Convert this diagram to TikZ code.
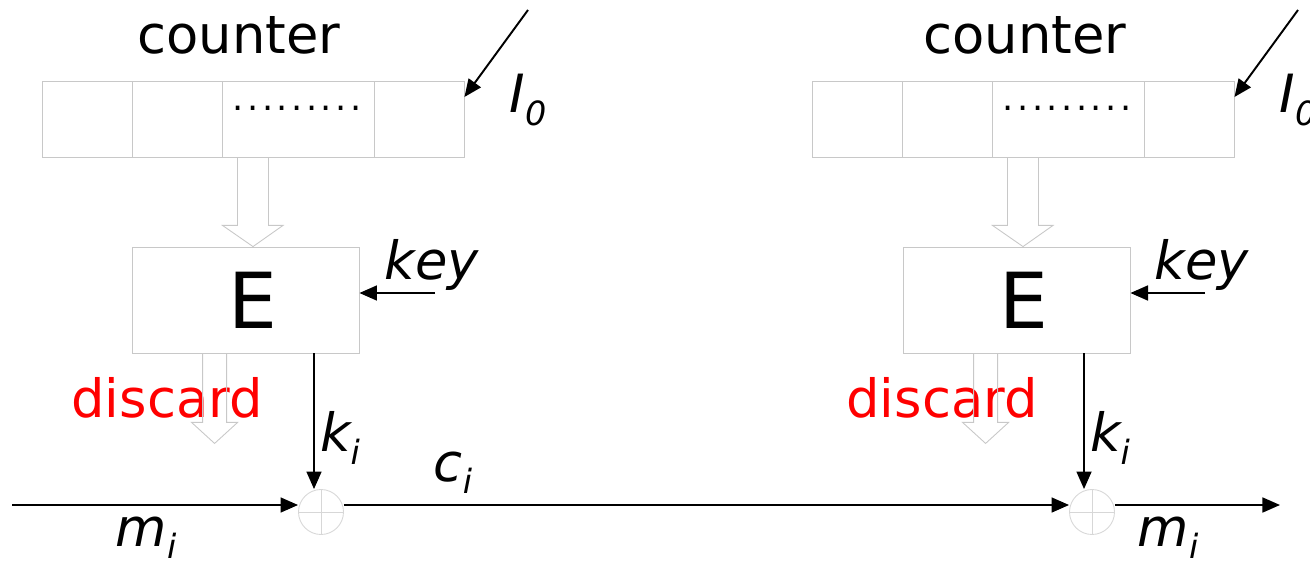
\documentclass[tikz,border=0pt]{standalone}
\usepackage{fontspec}
\setmainfont{DejaVu Sans}
\usepackage{xcolor}
\usetikzlibrary{arrows.meta, positioning, calc}
\definecolor{boxgrey}{RGB}{200,200,200}
\definecolor{xorgrey}{RGB}{215,215,215}
\definecolor{discred}{RGB}{255,0,0}
\newcommand{\lowidx}[2]{#1\raisebox{-7pt}{\fontsize{19}{19}\selectfont #2}}
\newcommand{\dotrow}{.\hspace{2pt}.\hspace{2pt}.\hspace{2pt}.\hspace{2pt}.\hspace{2pt}.\hspace{2pt}.\hspace{2pt}.\hspace{2pt}.}
\tikzset{
  cellbox/.style={rectangle, draw=boxgrey, minimum width=1.8cm, minimum height=1.52cm, inner sep=0pt, line width=0.5pt},
  encbox/.style={rectangle, draw=boxgrey, minimum width=4.54cm, minimum height=2.12cm, inner sep=0pt, line width=0.5pt, font=\fontsize{44}{44}\selectfont},
  xorc/.style={circle, draw=xorgrey, minimum size=0.9cm, inner sep=0pt, line width=0.5pt},
  arrow/.style={-{Triangle[length=10pt, width=8.5pt]}, line width=1.1pt},
  hollow/.style={draw=boxgrey, line width=0.5pt},
  lbl/.style={font=\fontsize{30}{30}\selectfont},
  var/.style={font=\fontsize{30}{30}\selectfont\itshape, inner sep=0pt},
}
\begin{document}
\begin{tikzpicture}[x=0.02cm, y=-0.02cm]
\clip (0,0) rectangle (1310,564);
% sender side
\node (cellA1) [cellbox] at (87,119) {};
\node (cellB1) [cellbox] at (177,119) {};
\node (cellC1) [cellbox, minimum width=3.04cm] at (298,119) {};
\node (cellD1) [cellbox] at (419,119) {};
\node (dots1) at (297,108) {\fontsize{20}{20}\selectfont\dotrow};
\node (ctr1) [lbl] at (239,35) {counter};
\node (enc1) [encbox] at (245.5,300) {\hspace{8pt}E};
\node (key1) [var] at (432,265) {key};
\node (iv1) [var] at (528,100) {\lowidx{I}{0}};
\node (disc1) [lbl, text=discred] at (167,398) {discard};
\node (xor1) [xorc] at (321,512) {};
\coordinate (ivA1) at (528,10);
\coordinate (keyA1) at (435,293);
\coordinate (reg1) at ($(cellA1.south west)!0.5!(cellD1.south east)$);
\coordinate (dsc1) at ($(enc1.south west)+(83,0)$);
\coordinate (kA1) at (314,353);
\coordinate (msgIn) at (12,505);
% receiver side
\node (cellA2) [cellbox] at (857,119) {};
\node (cellB2) [cellbox] at (947,119) {};
\node (cellC2) [cellbox, minimum width=3.04cm] at (1068,119) {};
\node (cellD2) [cellbox] at (1189,119) {};
\node (dots2) at (1067,108) {\fontsize{20}{20}\selectfont\dotrow};
\node (ctr2) [lbl] at (1025,35) {counter};
\node (enc2) [encbox] at (1016.5,300) {\hspace{8pt}E};
\node (key2) [var] at (1202,265) {key};
\node (iv2) [var] at (1298,100) {\lowidx{I}{0}};
\node (disc2) [lbl, text=discred] at (942,398) {discard};
\node (xor2) [xorc] at (1092,512) {};
\coordinate (ivA2) at (1298,10);
\coordinate (keyA2) at (1205,293);
\coordinate (reg2) at ($(cellA2.south west)!0.5!(cellD2.south east)$);
\coordinate (dsc2) at ($(enc2.south west)+(83,0)$);
\coordinate (kA2) at (1084,353);
\coordinate (msgOut) at (1280,505);
% labels on the line
\node (mlbl1) [var] at (146,538) {\lowidx{m}{i}};
\node (mlbl2) [var] at (1168,538) {\lowidx{m}{i}};
\node (klbl1) [var] at (340,438) {\lowidx{k}{i}};
\node (klbl2) [var] at (1110,438) {\lowidx{k}{i}};
\node (clbl) [var] at (453,473) {\lowidx{c}{i}};
% hollow arrows
\draw[hollow] ($(reg1)+(-15.5,0)$) -- ++(0,68) -- ++(-15,0) -- (reg1 |- enc1.north) -- ($(reg1)+(30,68)$) -- ++(-14.5,0) -- ($(reg1)+(15.5,0)$);
\draw[hollow] ($(reg2)+(-15.5,0)$) -- ++(0,68) -- ++(-15,0) -- (reg2 |- enc2.north) -- ($(reg2)+(30,68)$) -- ++(-14.5,0) -- ($(reg2)+(15.5,0)$);
\draw[hollow] ($(dsc1)+(-12,0)$) -- ++(0,69) -- ++(-11,0) -- ($(dsc1)+(0,90)$) -- ++(23,-21) -- ++(-11,0) -- ($(dsc1)+(12,0)$);
\draw[hollow] ($(dsc2)+(-12,0)$) -- ++(0,69) -- ++(-11,0) -- ($(dsc2)+(0,90)$) -- ++(23,-21) -- ++(-11,0) -- ($(dsc2)+(12,0)$);
% xor signs
\draw[xorgrey, line width=0.4pt] (xor1.north) -- (xor1.south) (xor1.west) -- (xor1.east);
\draw[xorgrey, line width=0.4pt] (xor2.north) -- (xor2.south) (xor2.west) -- (xor2.east);
% arrows
\draw[arrow] (ivA1) -- (cellD1.east |- 0,97);
\draw[arrow] (ivA2) -- (cellD2.east |- 0,97);
\draw[arrow] (keyA1) -- (enc1.east |- keyA1);
\draw[arrow] (keyA2) -- (enc2.east |- keyA2);
\draw[arrow] (kA1) -- (kA1 |- xor1.north);
\draw[arrow] (kA2) -- (kA2 |- xor2.north);
\draw[arrow] (msgIn) -- (msgIn -| xor1.west);
\draw[arrow] (xor1.east |- msgIn) -- (xor2.west |- msgIn);
\draw[arrow] (xor2.east |- msgIn) -- (msgOut);
\end{tikzpicture}
\end{document}
